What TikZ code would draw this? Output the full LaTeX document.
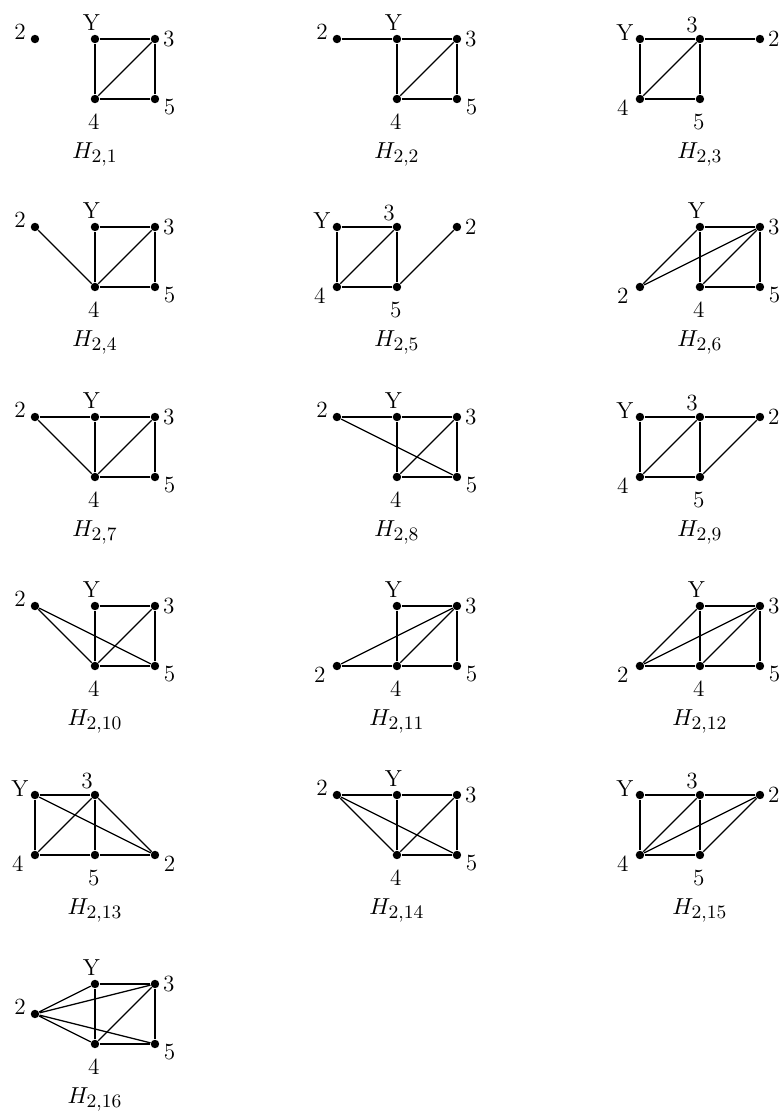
\documentclass[tikz,border=0pt]{standalone}
\usepackage{amsmath,amssymb}
\usepackage{tikz}
\usetikzlibrary{positioning}
\DeclareMathSizes{11}{11}{9}{7}

\begin{document}
\begin{tikzpicture}[
    vertex/.style={circle, fill, inner sep=0pt, minimum size=4pt},
    sideline/.style={line width=0.95pt},
    diagline/.style={line width=0.6pt},
    lblup/.style={label={[xshift=-1.7pt, yshift=7.6pt]center:#1}},
    lbltop/.style={label={[xshift=-3.8pt, yshift=6.4pt]center:#1}},
    lbldown/.style={label={[xshift=-0.5pt, yshift=-10.9pt]center:#1}},
    lblright/.style={label={[xshift=6.6pt]center:#1}},
    lbldownright/.style={label={[xshift=6.9pt, yshift=-4pt]center:#1}},
    lblupleft/.style={label={[xshift=-7.1pt, yshift=3.2pt]center:#1}},
    lbldownleft/.style={label={[xshift=-8.1pt, yshift=-4pt]center:#1}},
    font=\fontsize{11}{13}\selectfont,
    node distance=1cm, on grid
]
\useasboundingbox (-0.583,0.65) rectangle (12.467,-17.967);

% Row 1
\node[vertex, lblupleft=2] (v2a) at (0,0) {};
\node[vertex, lblup=Y, right=of v2a] (ya) {};
\node[vertex, lblright=3, right=of ya] (v3a) {};
\node[vertex, lbldown=4, below=of ya] (v4a) {};
\node[vertex, lbldownright=5, below=of v3a] (v5a) {};
\node[below=0.92cm of v4a] (ha) {$H_{2,1}$};
\draw[sideline] (ya) -- (v3a) -- (v5a) -- (v4a) -- (ya);
\draw[diagline] (v4a) -- (v3a);

\node[vertex, lblupleft=2] (v2b) at (5.033,0) {};
\node[vertex, lblup=Y, right=of v2b] (yb) {};
\node[vertex, lblright=3, right=of yb] (v3b) {};
\node[vertex, lbldown=4, below=of yb] (v4b) {};
\node[vertex, lbldownright=5, below=of v3b] (v5b) {};
\node[below=0.92cm of v4b] (hb) {$H_{2,2}$};
\draw[sideline] (v2b) -- (yb) -- (v3b) -- (v5b) -- (v4b) -- (yb);
\draw[diagline] (v4b) -- (v3b);

\node[vertex, lblupleft=Y] (yc) at (10.083,0) {};
\node[vertex, lbltop=3, right=of yc] (v3c) {};
\node[vertex, lblright=2, right=of v3c] (v2c) {};
\node[vertex, lbldownleft=4, below=of yc] (v4c) {};
\node[vertex, lbldown=5, below=of v3c] (v5c) {};
\node[below=0.92cm of v5c] (hc) {$H_{2,3}$};
\draw[sideline] (v2c) -- (v3c) -- (yc) -- (v4c) -- (v5c) -- (v3c);
\draw[diagline] (v4c) -- (v3c);

% Row 2
\node[vertex, lblupleft=2] (v2d) at (0,-3.133) {};
\node[vertex, lblup=Y, right=of v2d] (yd) {};
\node[vertex, lblright=3, right=of yd] (v3d) {};
\node[vertex, lbldown=4, below=of yd] (v4d) {};
\node[vertex, lbldownright=5, below=of v3d] (v5d) {};
\node[below=0.92cm of v4d] (hd) {$H_{2,4}$};
\draw[sideline] (yd) -- (v3d) -- (v5d) -- (v4d) -- (yd);
\draw[diagline] (v4d) -- (v3d);
\draw[diagline] (v2d) -- (v4d);

\node[vertex, lblupleft=Y] (ye) at (5.033,-3.133) {};
\node[vertex, lbltop=3, right=of ye] (v3e) {};
\node[vertex, lblright=2, right=of v3e] (v2e) {};
\node[vertex, lbldownleft=4, below=of ye] (v4e) {};
\node[vertex, lbldown=5, below=of v3e] (v5e) {};
\node[below=0.92cm of v5e] (he) {$H_{2,5}$};
\draw[sideline] (ye) -- (v3e) -- (v5e) -- (v4e) -- (ye);
\draw[diagline] (v4e) -- (v3e);
\draw[diagline] (v5e) -- (v2e);

\node[vertex, lblup=Y] (yf) at (11.083,-3.133) {};
\node[vertex, lblright=3, right=of yf] (v3f) {};
\node[vertex, lbldown=4, below=of yf] (v4f) {};
\node[vertex, lbldownright=5, below=of v3f] (v5f) {};
\node[vertex, lbldownleft=2, left=of v4f] (v2f) {};
\node[below=0.92cm of v4f] (hf) {$H_{2,6}$};
\draw[sideline] (yf) -- (v3f) -- (v5f) -- (v4f) -- (yf);
\draw[diagline] (v4f) -- (v3f);
\draw[diagline] (v2f) -- (yf) (v2f) -- (v3f);

% Row 3
\node[vertex, lblupleft=2] (v2g) at (0,-6.3) {};
\node[vertex, lblup=Y, right=of v2g] (yg) {};
\node[vertex, lblright=3, right=of yg] (v3g) {};
\node[vertex, lbldown=4, below=of yg] (v4g) {};
\node[vertex, lbldownright=5, below=of v3g] (v5g) {};
\node[below=0.92cm of v4g] (hg) {$H_{2,7}$};
\draw[sideline] (v2g) -- (yg) -- (v3g) -- (v5g) -- (v4g) -- (yg);
\draw[diagline] (v4g) -- (v3g);
\draw[diagline] (v2g) -- (v4g);

\node[vertex, lblupleft=2] (v2h) at (5.033,-6.3) {};
\node[vertex, lblup=Y, right=of v2h] (yh) {};
\node[vertex, lblright=3, right=of yh] (v3h) {};
\node[vertex, lbldown=4, below=of yh] (v4h) {};
\node[vertex, lbldownright=5, below=of v3h] (v5h) {};
\node[below=0.92cm of v4h] (hh) {$H_{2,8}$};
\draw[sideline] (v2h) -- (yh) -- (v3h) -- (v5h) -- (v4h) -- (yh);
\draw[diagline] (v4h) -- (v3h);
\draw[diagline] (v2h) -- (v5h);

\node[vertex, lblupleft=Y] (yi) at (10.083,-6.3) {};
\node[vertex, lbltop=3, right=of yi] (v3i) {};
\node[vertex, lblright=2, right=of v3i] (v2i) {};
\node[vertex, lbldownleft=4, below=of yi] (v4i) {};
\node[vertex, lbldown=5, below=of v3i] (v5i) {};
\node[below=0.92cm of v5i] (hi) {$H_{2,9}$};
\draw[sideline] (v2i) -- (v3i) -- (yi) -- (v4i) -- (v5i) -- (v3i);
\draw[diagline] (v4i) -- (v3i);
\draw[diagline] (v5i) -- (v2i);

% Row 4
\node[vertex, lblupleft=2] (v2j) at (0,-9.45) {};
\node[vertex, lblup=Y, right=of v2j] (yj) {};
\node[vertex, lblright=3, right=of yj] (v3j) {};
\node[vertex, lbldown=4, below=of yj] (v4j) {};
\node[vertex, lbldownright=5, below=of v3j] (v5j) {};
\node[below=0.92cm of v4j] (hj) {$H_{2,10}$};
\draw[sideline] (yj) -- (v3j) -- (v5j) -- (v4j) -- (yj);
\draw[diagline] (v4j) -- (v3j);
\draw[diagline] (v2j) -- (v4j) (v2j) -- (v5j);

\node[vertex, lblup=Y] (yk) at (6.033,-9.45) {};
\node[vertex, lblright=3, right=of yk] (v3k) {};
\node[vertex, lbldown=4, below=of yk] (v4k) {};
\node[vertex, lbldownright=5, below=of v3k] (v5k) {};
\node[vertex, lbldownleft=2, left=of v4k] (v2k) {};
\node[below=0.92cm of v4k] (hk) {$H_{2,11}$};
\draw[sideline] (v2k) -- (v4k) -- (v5k) -- (v3k) -- (yk) -- (v4k);
\draw[diagline] (v4k) -- (v3k);
\draw[diagline] (v2k) -- (v3k);

\node[vertex, lblup=Y] (yl) at (11.083,-9.45) {};
\node[vertex, lblright=3, right=of yl] (v3l) {};
\node[vertex, lbldown=4, below=of yl] (v4l) {};
\node[vertex, lbldownright=5, below=of v3l] (v5l) {};
\node[vertex, lbldownleft=2, left=of v4l] (v2l) {};
\node[below=0.92cm of v4l] (hl) {$H_{2,12}$};
\draw[sideline] (v2l) -- (v4l) -- (v5l) -- (v3l) -- (yl) -- (v4l);
\draw[diagline] (v4l) -- (v3l);
\draw[diagline] (v2l) -- (yl) (v2l) -- (v3l);

% Row 5
\node[vertex, lblupleft=Y] (ym) at (0,-12.6) {};
\node[vertex, lbltop=3, right=of ym] (v3m) {};
\node[vertex, lbldownleft=4, below=of ym] (v4m) {};
\node[vertex, lbldown=5, below=of v3m] (v5m) {};
\node[vertex, lbldownright=2, right=of v5m] (v2m) {};
\node[below=0.92cm of v5m] (hm) {$H_{2,13}$};
\draw[sideline] (v2m) -- (v5m) -- (v4m) -- (ym) -- (v3m) -- (v5m);
\draw[diagline] (v4m) -- (v3m);
\draw[diagline] (v3m) -- (v2m) (ym) -- (v2m);

\node[vertex, lblupleft=2] (v2n) at (5.033,-12.6) {};
\node[vertex, lblup=Y, right=of v2n] (yn) {};
\node[vertex, lblright=3, right=of yn] (v3n) {};
\node[vertex, lbldown=4, below=of yn] (v4n) {};
\node[vertex, lbldownright=5, below=of v3n] (v5n) {};
\node[below=0.92cm of v4n] (hn) {$H_{2,14}$};
\draw[sideline] (v2n) -- (yn) -- (v3n) -- (v5n) -- (v4n) -- (yn);
\draw[diagline] (v4n) -- (v3n);
\draw[diagline] (v2n) -- (v4n) (v2n) -- (v5n);

\node[vertex, lblupleft=Y] (yo) at (10.083,-12.6) {};
\node[vertex, lbltop=3, right=of yo] (v3o) {};
\node[vertex, lblright=2, right=of v3o] (v2o) {};
\node[vertex, lbldownleft=4, below=of yo] (v4o) {};
\node[vertex, lbldown=5, below=of v3o] (v5o) {};
\node[below=0.92cm of v5o] (ho) {$H_{2,15}$};
\draw[sideline] (v2o) -- (v3o) -- (yo) -- (v4o) -- (v5o) -- (v3o);
\draw[diagline] (v4o) -- (v3o);
\draw[diagline] (v4o) -- (v2o) (v5o) -- (v2o);

% Row 6
\node[vertex, lblup=Y] (yp) at (1,-15.75) {};
\node[vertex, lblright=3, right=of yp] (v3p) {};
\node[vertex, lbldown=4, below=of yp] (v4p) {};
\node[vertex, lbldownright=5, below=of v3p] (v5p) {};
\node[vertex, lblupleft=2, below left=0.5cm and 1cm of yp] (v2p) {};
\node[below=0.92cm of v4p] (hp) {$H_{2,16}$};
\draw[sideline] (yp) -- (v3p) -- (v5p) -- (v4p) -- (yp);
\draw[diagline] (v4p) -- (v3p);
\draw[diagline] (v2p) -- (yp) (v2p) -- (v3p) (v2p) -- (v4p) (v2p) -- (v5p);

\end{tikzpicture}
\end{document}
